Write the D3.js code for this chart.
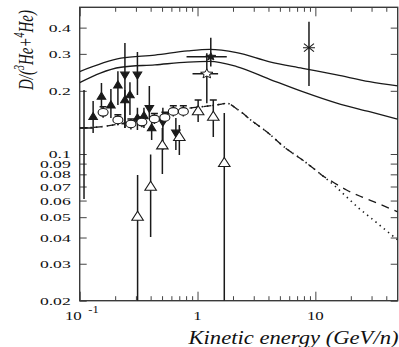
<!DOCTYPE html>
<html><head><meta charset="utf-8">
<script src="https://cdn.jsdelivr.net/npm/d3@7"></script>
<style>body{margin:0;background:#fff}svg{display:block}</style>
</head><body>
<svg id="c" width="399" height="347"></svg>
<script>
// ---- data ----
const yTickValues = [0.4, 0.3, 0.2, 0.1, 0.09, 0.08, 0.07, 0.06, 0.05, 0.04, 0.03, 0.02];
const yTickLabels = ["0.4", "0.3", "0.2", "0.1", "0.09", "0.08", "0.07", "0.06", "0.05", "0.04", "0.03", "0.02"];
const xMajorTicks = [0.1, 1, 10];
const xMinorTicks = [0.2, 0.3, 0.4, 0.5, 0.6, 0.7, 0.8, 0.9, 2, 3, 4, 5, 6, 7, 8, 9, 20, 30, 40];

const bandE = [0.1, 0.224, 0.435, 0.828, 1.27, 2.15, 4.10, 7.80, 15.2, 28.8, 50];
const bandUpperV = [0.247, 0.286, 0.296, 0.310, 0.315, 0.304, 0.275, 0.256, 0.238, 0.221, 0.211];
const bandLowerV = [0.219, 0.259, 0.266, 0.274, 0.276, 0.261, 0.227, 0.198, 0.1746, 0.159, 0.1465];

const dashedE = [0.1, 0.1486, 0.2196, 0.3243, 0.443, 0.582, 0.78, 1.199, 1.607, 1.76, 2.22, 2.96, 3.79, 5.71, 7.36, 9.30, 11.3, 14.0, 18.4, 24.7, 33.1, 50];
const dashedV = [0.133, 0.1346, 0.139, 0.1437, 0.1486, 0.157, 0.164, 0.169, 0.173, 0.1745, 0.162, 0.1423, 0.1288, 0.1057, 0.0958, 0.0868, 0.0795, 0.0737, 0.0674, 0.0625, 0.0585, 0.053];
const dottedE = [0.1, 0.1486, 0.2196, 0.3243, 0.443, 0.582, 0.78, 1.199, 1.607, 1.76, 2.22, 2.96, 3.79, 5.71, 7.36, 9.30, 11.3, 14.6, 18.8, 23.7, 28.8, 36.5, 50];
const dottedV = [0.133, 0.1346, 0.139, 0.1437, 0.1486, 0.157, 0.164, 0.169, 0.173, 0.1745, 0.162, 0.1423, 0.1288, 0.1057, 0.0958, 0.0868, 0.0795, 0.0705, 0.0618, 0.0548, 0.0502, 0.045, 0.039];

const upTriE = [0.130, 0.153, 0.184, 0.211, 0.242, 0.267, 0.309, 0.351, 0.408];
const upTriV = [0.1506, 0.188, 0.171, 0.213, 0.181, 0.191, 0.1486, 0.152, 0.133];
const upTriLo = [0.126, 0.166, 0.1486, 0.171, 0.133, 0.1535, 0.130, 0.133, 0.1167];
const upTriHi = [0.179, 0.218, 0.204, 0.248, 0.202, 0.220, 0.166, 0.166, 0.1437];

const downTriE = [0.242, 0.309, 0.390, 0.508, 0.655];
const downTriV = [0.238, 0.238, 0.165, 0.142, 0.126];
const downTriLo = [0.133, 0.191, 0.1486, 0.1045, 0.1045];
const downTriHi = [0.338, 0.306, 0.211, 0.166, 0.1486];

const openTriE = [0.310, 0.400, 0.503, 0.701, 1.012, 1.361, 1.687];
const openTriV = [0.0503, 0.0699, 0.110, 0.1206, 0.160, 0.1506, 0.0907];
const openTriLo = [0.02, 0.0402, 0.0804, 0.099, 0.142, 0.1206, 0.02];
const openTriHi = [0.0795, 0.0995, 0.133, 0.1375, 0.181, 0.181, 0.157];

const circE = [0.158, 0.211, 0.272, 0.337, 0.4305, 0.528, 0.623, 0.758];
const circV = [0.158, 0.1453, 0.139, 0.142, 0.1469, 0.1493, 0.1595, 0.1595];
const circLo = [0.149, 0.137, 0.131, 0.134, 0.139, 0.141, 0.151, 0.151];
const circHi = [0.168, 0.154, 0.147, 0.150, 0.156, 0.158, 0.170, 0.170];

const starE = [1.296], starV = [0.291], starXLo = [0.807], starXHi = [1.771], starLo = [0.261], starHi = [0.358];
const oStarE = [1.199], oStarV = [0.241], oStarXLo = [0.907], oStarXHi = [1.495], oStarLo = [0.1745], oStarHi = [0.302];
const astE = [8.83], astV = [0.321], astLo = [0.211], astHi = [0.427];
const crossE = [0.1088], crossV = [0.133], crossXLo = [0.1026], crossXHi = [0.1297], crossLo = [0.0611], crossHi = [0.202];

// ---- chart ----
const svg = d3.select("#c");
const L = 79.7, R = 397.7, T = 7.3, B = 300.7;
const x = d3.scaleLog().domain([0.1, 50]).range([L, R]);
const y = d3.scaleLog().domain([0.02, 0.5]).range([B, T]);
const ink = "#1a1a1a";
const serif = "'Liberation Serif','Times New Roman',serif";

svg.append("defs").append("clipPath").attr("id", "plot")
  .append("rect").attr("x", L).attr("y", T).attr("width", R - L).attr("height", B - T);

// axes (ticks pointing inward)
function ax(gen, tx, ty) {
  const g = svg.append("g").attr("transform", `translate(${tx},${ty})`).call(gen);
  g.select(".domain").remove();
  g.selectAll("line").attr("stroke", "#444").attr("stroke-width", 1);
  return g;
}
ax(d3.axisLeft(y).tickValues(yTickValues).tickSize(-7).tickFormat(""), L, 0);
ax(d3.axisRight(y).tickValues(yTickValues).tickSize(-7).tickFormat(""), R, 0);
ax(d3.axisBottom(x).tickValues(xMajorTicks).tickSize(-9).tickFormat(""), 0, B);
ax(d3.axisBottom(x).tickValues(xMinorTicks).tickSize(-4.5).tickFormat(""), 0, B);
ax(d3.axisTop(x).tickValues(xMajorTicks).tickSize(-9).tickFormat(""), 0, T);
ax(d3.axisTop(x).tickValues(xMinorTicks).tickSize(-4.5).tickFormat(""), 0, T);

svg.append("rect").attr("x", L).attr("y", T).attr("width", R - L).attr("height", B - T)
  .attr("fill", "none").attr("stroke", "#3a3a3a").attr("stroke-width", 1.4);

// tick labels
yTickValues.forEach((v, i) => {
  svg.append("text").attr("transform", `translate(70.7,${y(v) + 4}) scale(1.6,1)`)
    .attr("text-anchor", "end").attr("font-family", serif).attr("font-size", 11)
    .attr("fill", "#111").text(yTickLabels[i]);
});
function xlab(v, str) {
  return svg.append("text").attr("transform", `translate(${x(v)},320) scale(1.25,1)`)
    .attr("text-anchor", "middle").attr("font-family", serif).attr("font-size", 13.5)
    .attr("fill", "#111").text(str);
}
xlab(1, "1");
xlab(10, "10");
svg.append("text").attr("transform", `translate(${x(0.1) - 6.4},320) scale(1.25,1)`)
  .attr("text-anchor", "middle").attr("font-family", serif).attr("font-size", 13.5)
  .attr("fill", "#111").text("10");
svg.append("text").attr("transform", `translate(${x(0.1) + 8.6},312.5) scale(1.25,1)`)
  .attr("text-anchor", "start").attr("font-family", serif).attr("font-size", 10)
  .attr("fill", "#111").text("-1");

// axis titles
svg.append("text").attr("x", 188.5).attr("y", 343.5)
  .attr("font-family", serif).attr("font-style", "italic").attr("font-size", 18)
  .attr("textLength", 210).attr("lengthAdjust", "spacingAndGlyphs")
  .attr("fill", "#111").text("Kinetic energy (GeV/n)");
const yt = svg.append("text").attr("transform", "translate(33,50) scale(1.45,1) rotate(-90)")
  .attr("text-anchor", "middle").attr("font-family", serif).attr("font-style", "italic")
  .attr("font-size", 15).attr("fill", "#111");
yt.append("tspan").text("D/(");
yt.append("tspan").attr("dy", -6).attr("font-size", 10).text("3");
yt.append("tspan").attr("dy", 6).text("He+");
yt.append("tspan").attr("dy", -6).attr("font-size", 10).text("4");
yt.append("tspan").attr("dy", 6).text("He)");

// curves
const plot = svg.append("g").attr("clip-path", "url(#plot)");
function curve(E, V, dash, w) {
  const line = d3.line().x(d => x(d[0])).y(d => y(d[1])).curve(d3.curveMonotoneX);
  plot.append("path").attr("d", line(d3.zip(E, V))).attr("fill", "none")
    .attr("stroke", ink).attr("stroke-width", w).attr("stroke-dasharray", dash);
}
curve(bandE, bandUpperV, null, 1.3);
curve(bandE, bandLowerV, null, 1.3);
curve(dashedE, dashedV, "8,6", 1.3);
curve(dottedE, dottedV, "1.4,4", 1.6);

// error bars
const eb = plot.append("g").attr("stroke", ink).attr("stroke-width", 1.5);
function vbar(E, Lo, Hi, cap) {
  E.forEach((e, i) => {
    eb.append("line").attr("x1", x(e)).attr("x2", x(e)).attr("y1", y(Lo[i])).attr("y2", y(Hi[i]));
    if (cap) {
      eb.append("line").attr("x1", x(e) - 3.5).attr("x2", x(e) + 3.5).attr("y1", y(Hi[i])).attr("y2", y(Hi[i]));
    }
  });
}
function hbar(V, XLo, XHi) {
  V.forEach((v, i) => {
    eb.append("line").attr("x1", x(XLo[i])).attr("x2", x(XHi[i])).attr("y1", y(v)).attr("y2", y(v));
  });
}
vbar(upTriE, upTriLo, upTriHi, false);
vbar(downTriE, downTriLo, downTriHi, false);
vbar(openTriE.slice(0, 4), openTriLo.slice(0, 4), openTriHi.slice(0, 4), false);
vbar(openTriE.slice(4, 6), openTriLo.slice(4, 6), openTriHi.slice(4, 6), true);
vbar(openTriE.slice(6), openTriLo.slice(6), openTriHi.slice(6), false);
vbar(circE, circLo, circHi, true);
vbar(starE, starLo, starHi, false); hbar(starV, starXLo, starXHi);
vbar(oStarE, oStarLo, oStarHi, false); hbar(oStarV, oStarXLo, oStarXHi);
vbar(astE, astLo, astHi, false);
vbar(crossE, crossLo, crossHi, false); hbar(crossV, crossXLo, crossXHi);

// markers
const mk = plot.append("g");
function tri(E, V, w, h, up, fill) {
  E.forEach((e, i) => {
    const cx = x(e), cy = y(V[i]);
    const p = up
      ? `M${cx - w / 2},${cy + h * 0.4}L${cx + w / 2},${cy + h * 0.4}L${cx},${cy - h * 0.6}Z`
      : `M${cx - w / 2},${cy - h * 0.4}L${cx + w / 2},${cy - h * 0.4}L${cx},${cy + h * 0.6}Z`;
    mk.append("path").attr("d", p).attr("fill", fill).attr("stroke", ink).attr("stroke-width", 1.1);
  });
}
tri(upTriE, upTriV, 8.5, 7, true, ink);
tri(downTriE, downTriV, 8.5, 7, false, ink);
tri(openTriE, openTriV, 11.5, 9, true, "#fff");
circE.forEach((e, i) => {
  mk.append("ellipse").attr("cx", x(e)).attr("cy", y(circV[i])).attr("rx", 5).attr("ry", 3.8)
    .attr("fill", "#fff").attr("stroke", ink).attr("stroke-width", 1.1);
});
function star(E, V, ro, ri, fill) {
  E.forEach((e, i) => {
    const cx = x(e), cy = y(V[i]);
    const pts = d3.range(10).map(k => {
      const a = -Math.PI / 2 + k * Math.PI / 5, r = k % 2 ? ri : ro;
      return [cx + 1.3 * r * Math.cos(a), cy + r * Math.sin(a)];
    });
    mk.append("path").attr("d", "M" + pts.join("L") + "Z").attr("fill", fill)
      .attr("stroke", ink).attr("stroke-width", 1);
  });
}
star(starE, starV, 4, 1.7, ink);
star(oStarE, oStarV, 5, 2.2, "#fff");
astE.forEach((e, i) => {
  const cx = x(e), cy = y(astV[i]);
  const g = mk.append("g").attr("stroke", ink).attr("stroke-width", 1.1);
  g.append("line").attr("x1", cx - 5).attr("x2", cx + 5).attr("y1", cy - 4).attr("y2", cy + 4);
  g.append("line").attr("x1", cx - 5).attr("x2", cx + 5).attr("y1", cy + 4).attr("y2", cy - 4);
  g.append("line").attr("x1", cx - 6).attr("x2", cx + 6).attr("y1", cy).attr("y2", cy);
});
</script>
</body></html>
